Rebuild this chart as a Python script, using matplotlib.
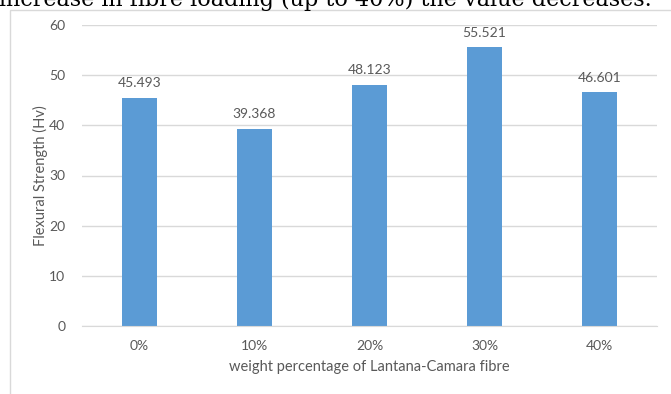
import matplotlib.pyplot as plt
from matplotlib.patches import Rectangle

# flexural strength vs fibre loading
categories = ["0%", "10%", "20%", "30%", "40%"]
strength = [45.493, 39.368, 48.123, 55.521, 46.601]
y_ticks = [0, 10, 20, 30, 40, 50, 60]

bar_color = "#5B9BD5"
grid_color = "#D9D9D9"
text_color = "#595959"
plt.rcParams['font.family'] = ['Lato', 'DejaVu Sans']

fig = plt.figure(figsize=(6.71, 3.94), dpi=100)

# running text of the page, cut at the top edge
fig.text(-0.002, 1 - 6 / 394, "increase in fibre loading (up to 40%) the value decreases.",
         family="DejaVu Serif", fontsize=16, color="black", va="baseline", ha="left")

# light frame around the chart area
fig.patches.append(Rectangle((10 / 671, -0.1), 1.2, 1 - 9.5 / 394 + 0.1,
                             transform=fig.transFigure, fill=False,
                             edgecolor=grid_color, linewidth=1))

ax = fig.add_axes([82 / 671, 1 - 326 / 394, (657 - 82) / 671, (326 - 25) / 394])
x = range(len(categories))
bars = ax.bar(x, strength, width=0.31, color=bar_color, zorder=2)

for b, v in zip(bars, strength):
    ax.annotate(f"{v:.3f}", (b.get_x() + b.get_width() / 2, v), xytext=(0, 6),
                textcoords="offset points", ha="center", va="bottom",
                fontsize=10, color=text_color)

ax.set_xlim(-0.5, 4.5)
ax.set_ylim(0, 60)
ax.set_yticks(y_ticks)
ax.set_xticks(list(x))
ax.set_xticklabels(categories)
ax.grid(axis="y", color=grid_color, linewidth=1, zorder=0)
ax.tick_params(length=0, colors=text_color, labelsize=10)
ax.tick_params(axis="y", pad=12)
ax.tick_params(axis="x", pad=10)
for side in ["top", "right", "left"]:
    ax.spines[side].set_visible(False)
ax.spines["bottom"].set_color(grid_color)

ax.set_ylabel("Flexural Strength (Hv)", fontsize=10.5, color=text_color, labelpad=1)
ax.set_xlabel("weight percentage of Lantana-Camara fibre", fontsize=10.5,
              color=text_color, labelpad=6)

fig.savefig("out.png", dpi=100)
